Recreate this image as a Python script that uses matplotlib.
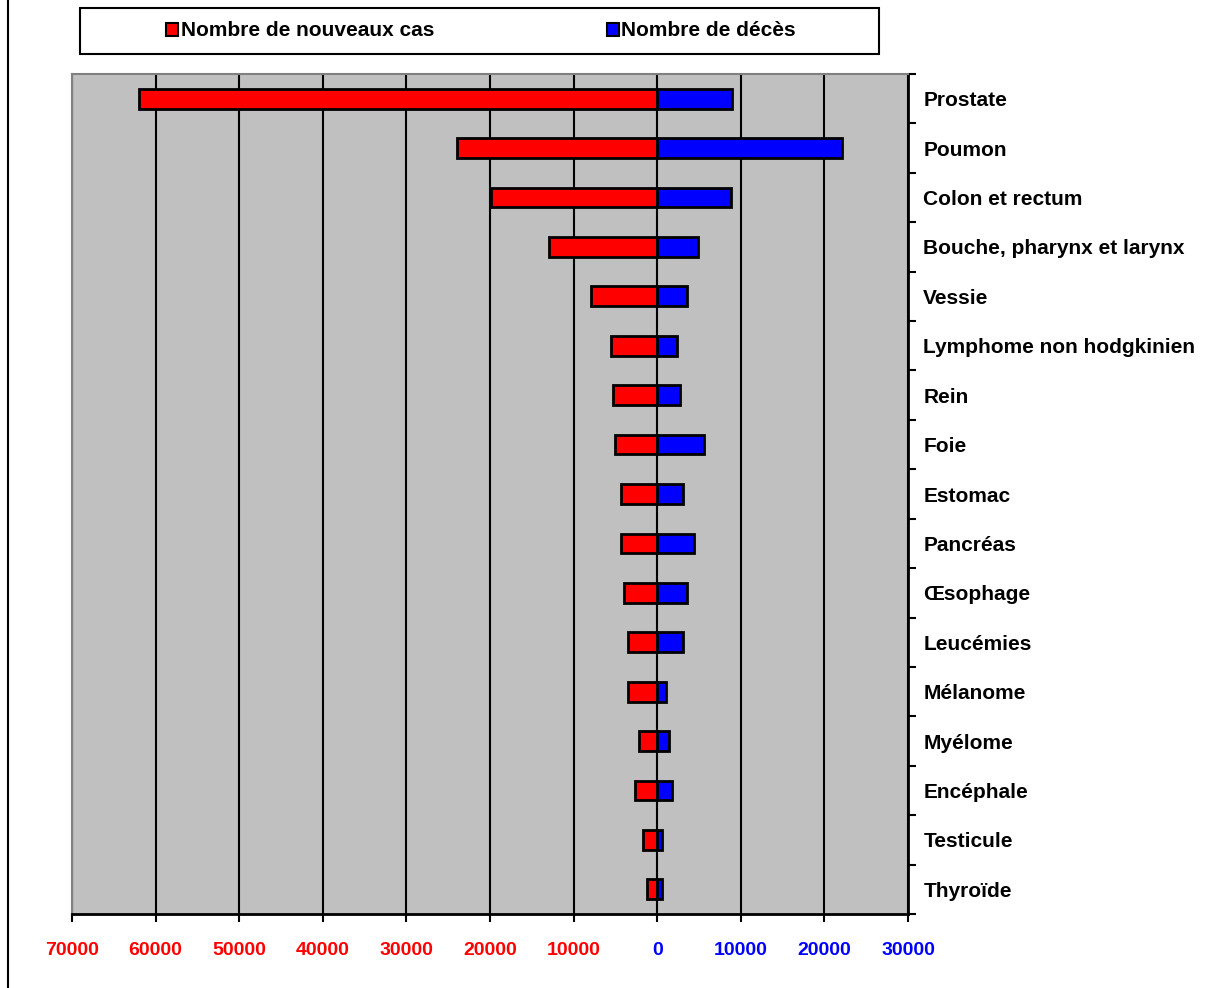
import matplotlib.pyplot as plt
from matplotlib.patches import Patch, Rectangle
from matplotlib.lines import Line2D

# Données
localisations = ['Prostate', 'Poumon', 'Colon et rectum', 'Bouche, pharynx et larynx',
                 'Vessie', 'Lymphome non hodgkinien', 'Rein', 'Foie', 'Estomac',
                 'Pancréas', 'Œsophage', 'Leucémies', 'Mélanome', 'Myélome',
                 'Encéphale', 'Testicule', 'Thyroïde']
nouveaux_cas = [62000, 23900, 19900, 13000, 7900, 5500, 5300, 5000, 4300,
                4300, 3950, 3500, 3500, 2150, 2600, 1700, 1200]
deces = [9000, 22100, 8850, 4900, 3600, 2400, 2750, 5600, 3100,
         4400, 3600, 3100, 1100, 1450, 1800, 600, 600]

x_ticks = [-70000, -60000, -50000, -40000, -30000, -20000, -10000, 0, 10000, 20000, 30000]

plt.rcParams['font.family'] = ['Liberation Sans', 'DejaVu Sans']
plt.rcParams['font.weight'] = 'bold'

fig = plt.figure(figsize=(12.19, 9.88), dpi=100)
ax = fig.add_axes([72 / 1219, 1 - 914 / 988, 836 / 1219, 840 / 988])
ax.set_facecolor('#c0c0c0')

n = len(localisations)
pos = list(range(n))
ax.barh(pos, [-v for v in nouveaux_cas], height=0.4, color='#ff0000',
        edgecolor='black', linewidth=2, zorder=3)
ax.barh(pos, deces, height=0.4, color='#0000ff',
        edgecolor='black', linewidth=2, zorder=3)

ax.set_xlim(-70000, 30000)
ax.set_ylim(n - 0.5, -0.5)

# Grille verticale
for t in x_ticks:
    ax.axvline(t, color='black', linewidth=1.5, zorder=1)

ax.set_xticks(x_ticks)
ax.set_xticklabels([str(abs(t)) for t in x_ticks], fontsize=14, fontweight='bold')
for t, lab in zip(x_ticks, ax.get_xticklabels()):
    lab.set_color('#ff0000' if t < 0 else '#0000ff')
ax.tick_params(axis='x', direction='out', length=6, width=1.5, pad=14)

# Étiquettes à droite
ax.yaxis.tick_right()
ax.set_yticks([i + 0.5 for i in range(-1, n)], minor=False)
ax.set_yticklabels([])
ax.tick_params(axis='y', direction='out', length=6, width=1.5)
ax.set_yticks(pos, minor=True)
ax.set_yticklabels(localisations, minor=True, fontsize=15, fontweight='bold')
ax.tick_params(axis='y', which='minor', length=0, pad=11)

for side in ['top', 'left']:
    ax.spines[side].set_color('#808080')
    ax.spines[side].set_linewidth(1.5)
for side in ['bottom', 'right']:
    ax.spines[side].set_color('black')
    ax.spines[side].set_linewidth(2)

# Légende (cadre dessiné à part)
fig.add_artist(Rectangle((80 / 1219, 1 - 54 / 988), 799 / 1219, 46 / 988,
                         transform=fig.transFigure, facecolor='white',
                         edgecolor='black', linewidth=1.5))
handles = [Patch(facecolor='#ff0000', edgecolor='black', linewidth=1.5),
           Patch(facecolor='#0000ff', edgecolor='black', linewidth=1.5)]
leg = fig.legend(handles, ['Nombre de nouveaux cas', 'Nombre de décès'],
                 loc='center', bbox_to_anchor=(481 / 1219, 1 - 31 / 988),
                 ncol=2, frameon=False,
                 handlelength=0.6, handleheight=0.6, handletextpad=0.1,
                 columnspacing=8.3, prop={'weight': 'bold', 'size': 15})

# Bordure gauche de la figure
fig.add_artist(Line2D([8 / 1219, 8 / 1219], [0, 1], color='black', linewidth=1.5,
                      transform=fig.transFigure))

fig.savefig('out.png', dpi=100)
